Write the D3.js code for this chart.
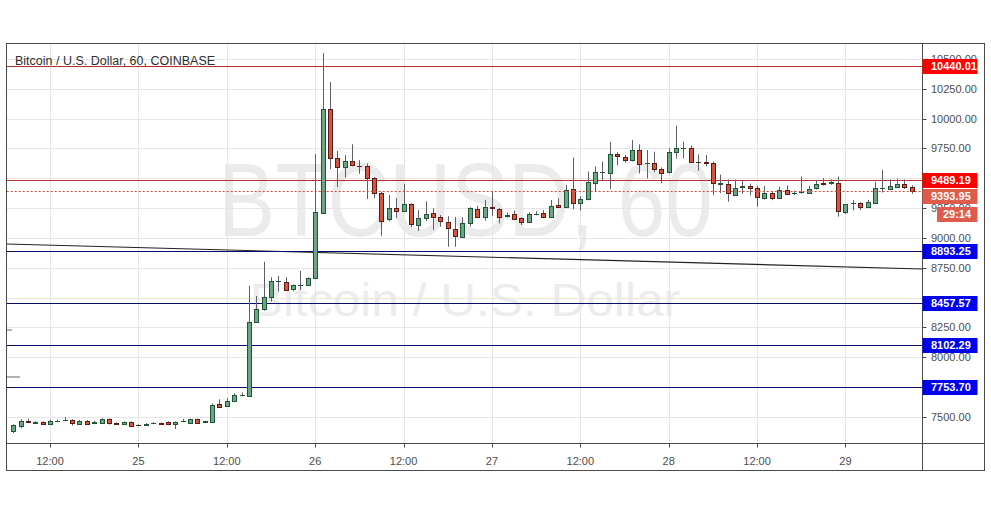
<!DOCTYPE html>
<html><head><meta charset="utf-8">
<script src="https://cdn.jsdelivr.net/npm/d3@7"></script>
<style>body{margin:0;background:#fff}svg{display:block}</style>
</head><body><svg id="c" width="991" height="507"></svg>
<script>
// ---------- data ----------
const startTime = "2019-10-24T07:00:00Z";   // first hourly candle
const endTime   = "2019-10-29T10:00:00Z";   // exclusive (last candle 09:00)
const open = [
 7382,7426,7464,7452,7456,7439,7469,7474,7475,7444,
 7470,7446,7450,7484,7451,7441,7460,7434,7434,7448,
 7449,7460,7439,7466,7452,7483,7459,7461,7607,7591,
 7632,7684,7679,8293,8402,8503,8637,8634,8573,8604,
 8606,8663,9212,10078,9667,9596,9641,9606,9602,9503,
 9374,9156,9248,9228,9282,9111,9165,9209,9173,9136,
 9075,9010,9122,9240,9173,9257,9245,9187,9198,9165,
 9132,9200,9206,9173,9276,9257,9408,9291,9324,9458,
 9551,9543,9703,9675,9652,9736,9624,9630,9577,9549,
 9717,9750,9750,9640,9632,9624,9454,9453,9360,9430,
 9436,9417,9338,9380,9338,9402,9375,9383,9375,9417,
 9463,9460,9464,9220,9290,9290,9262,9296,9417,9408,
 9430,9450,9425];
const high = [
 7439,7482,7486,7464,7464,7479,7479,7499,7481,7475,
 7474,7466,7489,7488,7456,7463,7464,7440,7448,7456,
 7455,7464,7462,7484,7484,7487,7468,7614,7648,7659,
 7699,7704,8600,8514,8800,8671,8682,8671,8610,8724,
 8670,9702,10548,10305,9728,9694,9784,9652,9624,9510,
 9386,9360,9333,9453,9290,9234,9307,9248,9192,9182,
 9176,9173,9258,9270,9318,9388,9250,9212,9230,9172,
 9215,9223,9232,9318,9332,9444,9673,9350,9556,9598,
 9640,9806,9718,9695,9820,9784,9736,9722,9590,9750,
 9940,9806,9775,9700,9694,9640,9530,9490,9488,9480,
 9456,9436,9436,9392,9430,9440,9395,9514,9436,9486,
 9500,9490,9514,9284,9316,9300,9318,9470,9570,9490,
 9498,9490,9440];
const low = [
 7366,7406,7454,7444,7436,7434,7462,7466,7429,7440,
 7440,7442,7446,7436,7434,7436,7420,7424,7430,7444,
 7438,7436,7399,7462,7448,7448,7454,7458,7578,7585,
 7628,7674,7675,8290,8390,8466,8550,8560,8552,8564,
 8600,8655,9205,9577,9425,9506,9600,9537,9327,9333,
 9018,9140,9165,9220,9089,9060,9142,9066,9094,8926,
 8926,9005,9095,9170,9144,9184,9122,9170,9150,9108,
 9125,9190,9165,9168,9250,9250,9240,9228,9315,9388,
 9486,9408,9610,9630,9640,9540,9498,9550,9458,9540,
 9665,9666,9630,9563,9600,9358,9375,9304,9350,9370,
 9356,9262,9322,9316,9330,9360,9360,9370,9370,9405,
 9440,9445,9178,9200,9230,9232,9250,9286,9380,9400,
 9420,9410,9370];
const close = [
 7430,7469,7460,7454,7441,7464,7470,7475,7447,7470,
 7444,7461,7480,7447,7441,7460,7426,7429,7442,7449,
 7441,7441,7460,7468,7480,7452,7465,7601,7582,7635,
 7684,7688,8293,8402,8503,8637,8640,8564,8604,8608,
 8663,9215,10078,9667,9591,9644,9608,9604,9500,9374,
 9144,9248,9228,9282,9117,9165,9201,9173,9144,9081,
 9016,9122,9248,9178,9257,9250,9178,9195,9161,9132,
 9203,9201,9173,9270,9257,9402,9291,9324,9472,9556,
 9553,9700,9686,9652,9736,9616,9626,9575,9540,9722,
 9750,9752,9638,9636,9630,9456,9458,9374,9417,9432,
 9417,9342,9380,9338,9402,9369,9377,9385,9413,9450,
 9455,9466,9226,9282,9292,9262,9304,9417,9419,9436,
 9453,9425,9393.95];

const yTickValues = [10500,10250,10000,9750,9250,9000,8750,8250,8000,7500];
const gridPrices  = [10500,10250,10000,9750,9500,9250,9000,8750,8500,8250,8000,7750,7500];
const levelPrices = [10440.01, 9489.19, 8893.25, 8457.57, 8102.29, 7753.70];
const levelKinds  = ["red","red","blue","blue","blue","blue"];
const lastPrice = 9393.95;
const countdown = "29:14";
const trendTimes  = ["2019-10-24T06:07:00Z","2019-10-29T10:26:00Z"];
const trendPrices = [8949, 8740];
const titleText = "Bitcoin / U.S. Dollar, 60, COINBASE";
const watermarkBig = "BTCUSD, 60";
const watermarkSmall = "Bitcoin / U.S. Dollar";

// ---------- layout ----------
const L = 6.7, R = 922.3, T = 43.7, B = 443.3;
const svg = d3.select("#c");
const times = d3.utcHour.range(new Date(startTime), new Date(endTime));
const candles = times.map((t,i)=>({t, o:open[i], h:high[i], l:low[i], c:close[i]}));

const x = d3.scaleUtc()
  .domain([new Date("2019-10-24T06:07:00Z"), new Date("2019-10-29T10:26:00Z")])
  .range([L, R]);
const y = d3.scaleLinear().domain([7279.6, 10627]).range([B, T]);
const px = v => Math.round(v) + 0.5;
const FONT = "Liberation Sans, Arial, sans-serif";

svg.append("rect").attr("width",991).attr("height",507).attr("fill","#fff");

// watermark
svg.append("text").attr("x",218).attr("y",236).text(watermarkBig)
  .attr("font-family",FONT).attr("font-size",104)
  .attr("textLength",495).attr("lengthAdjust","spacingAndGlyphs").attr("fill","#ebebeb");
svg.append("text").attr("x",250).attr("y",316).text(watermarkSmall)
  .attr("font-family",FONT).attr("font-size",46)
  .attr("textLength",430).attr("lengthAdjust","spacingAndGlyphs").attr("fill","#ececec");

// grid
const xTicks = d3.utcHour.every(12).range(new Date("2019-10-24T12:00:00Z"), new Date("2019-10-29T06:00:00Z"));
const grid = svg.append("g").attr("stroke","#e6e6e6").attr("stroke-width",1);
grid.selectAll(".gx").data(xTicks).join("line")
  .attr("x1",d=>px(x(d))).attr("x2",d=>px(x(d))).attr("y1",T).attr("y2",B);
grid.selectAll(".gy").data(gridPrices).join("line")
  .attr("x1",L).attr("x2",R).attr("y1",d=>px(y(d))).attr("y2",d=>px(y(d)));

// clip for plot area
svg.append("clipPath").attr("id","plot").append("rect")
  .attr("x",L).attr("y",T).attr("width",R-L).attr("height",B-T);
const plot = svg.append("g").attr("clip-path","url(#plot)");

// trendline
plot.append("line")
  .attr("x1",x(new Date(trendTimes[0]))).attr("y1",y(trendPrices[0]))
  .attr("x2",x(new Date(trendTimes[1]))).attr("y2",y(trendPrices[1]))
  .attr("stroke","#222").attr("stroke-width",1.1);

// horizontal levels
const lvlColor = {red:"#b8312f", blue:"#0a0a70"};
plot.selectAll(".lvl").data(levelPrices).join("line")
  .attr("x1",L).attr("x2",R)
  .attr("y1",d=>px(y(d))).attr("y2",d=>px(y(d)))
  .attr("stroke",(d,i)=>lvlColor[levelKinds[i]]).attr("stroke-width",1);

// candles
const upFill="#6ba583", upLine="#225437", dnFill="#d75442", dnLine="#5b1a13", wick="#5d606b";
const cg = plot.append("g");
cg.selectAll(".w").data(candles).join("line")
  .attr("x1",d=>px(x(d.t))).attr("x2",d=>px(x(d.t)))
  .attr("y1",d=>y(d.h)).attr("y2",d=>y(d.l))
  .attr("stroke",wick).attr("stroke-width",1);
cg.selectAll(".b").data(candles).join("rect")
  .attr("x",d=>px(x(d.t))-2).attr("width",4)
  .attr("y",d=>px(y(Math.max(d.o,d.c))))
  .attr("height",d=>Math.max(0.01, px(y(Math.min(d.o,d.c))) - px(y(Math.max(d.o,d.c)))))
  .attr("fill",d=>d.c>=d.o?upFill:dnFill)
  .attr("stroke",d=>d.c>=d.o?upLine:dnLine).attr("stroke-width",1);

// last price dashed line
plot.append("line").attr("x1",L).attr("x2",R)
  .attr("y1",px(y(lastPrice))).attr("y2",px(y(lastPrice)))
  .attr("stroke","#c9503f").attr("stroke-width",1).attr("stroke-dasharray","2,2");

// left markers
svg.append("line").attr("x1",7).attr("x2",12).attr("y1",330).attr("y2",330).attr("stroke","#999").attr("stroke-width",1.5);
svg.append("line").attr("x1",7).attr("x2",20).attr("y1",377).attr("y2",377).attr("stroke","#999").attr("stroke-width",1.5);

// title
svg.append("text").attr("x",15).attr("y",64.5).text(titleText)
  .attr("font-family",FONT).attr("font-size",12.5).attr("fill","#2e2e2e");

// frame & axes
const fr = svg.append("g").attr("stroke","#4a4a4a").attr("stroke-width",1).attr("fill","none");
fr.append("rect").attr("x",6.5).attr("y",43.5).attr("width",978).attr("height",427);
fr.append("line").attr("x1",6.5).attr("x2",984.5).attr("y1",443.5).attr("y2",443.5);
fr.append("line").attr("x1",922.5).attr("x2",922.5).attr("y1",43.5).attr("y2",470.5);

// x axis ticks + labels
const fmt = d => d.getUTCHours()===0 ? d3.utcFormat("%-d")(d) : d3.utcFormat("%H:%M")(d);
svg.selectAll(".xt").data(xTicks).join("line")
  .attr("x1",d=>px(x(d))).attr("x2",d=>px(x(d))).attr("y1",443.5).attr("y2",447.5)
  .attr("stroke","#4a4a4a");
svg.selectAll(".xl").data(xTicks).join("text")
  .attr("x",d=>x(d)).attr("y",465).attr("text-anchor","middle").text(fmt)
  .attr("font-family",FONT).attr("font-size",11).attr("fill","#4d4d4d");

// y axis ticks + labels
svg.selectAll(".yt").data(yTickValues).join("line")
  .attr("x1",922.5).attr("x2",926.5).attr("y1",d=>px(y(d))).attr("y2",d=>px(y(d)))
  .attr("stroke","#4a4a4a");
svg.selectAll(".yl").data(yTickValues).join("text")
  .attr("x",931).attr("y",d=>y(d)).attr("dy","0.36em").text(d=>d3.format(".2f")(d))
  .attr("font-family",FONT).attr("font-size",11).attr("fill","#4d4d4d");

// level labels
const lblFill = {red:"#ff0000", blue:"#0000f0"};
const lg = svg.selectAll(".ll").data(levelPrices).join("g");
lg.append("rect").attr("x",922.5).attr("width",55).attr("y",d=>Math.round(y(d))-7).attr("height",15)
  .attr("fill",(d,i)=>lblFill[levelKinds[i]]);
lg.append("text").attr("x",931).attr("y",d=>Math.round(y(d))+0.5).attr("dy","0.36em")
  .text(d=>d3.format(".2f")(d))
  .attr("font-family",FONT).attr("font-size",11)
  .attr("font-weight","bold").attr("fill","#fff");

// last price label + countdown
svg.append("rect").attr("x",922.5).attr("y",189).attr("width",55).attr("height",15).attr("fill","#df5b4b");
svg.append("text").attr("x",931).attr("y",196.5).attr("dy","0.36em").text(d3.format(".2f")(lastPrice))
  .attr("font-family",FONT).attr("font-size",11)
  .attr("font-weight","bold").attr("fill","#fff");
svg.append("rect").attr("x",937).attr("y",207).attr("width",40.5).attr("height",15).attr("fill","#df5b4b");
svg.append("text").attr("x",957).attr("y",214.5).attr("dy","0.36em").attr("text-anchor","middle").text(countdown)
  .attr("font-family",FONT).attr("font-size",11)
  .attr("font-weight","bold").attr("fill","#fff");
</script></body></html>
